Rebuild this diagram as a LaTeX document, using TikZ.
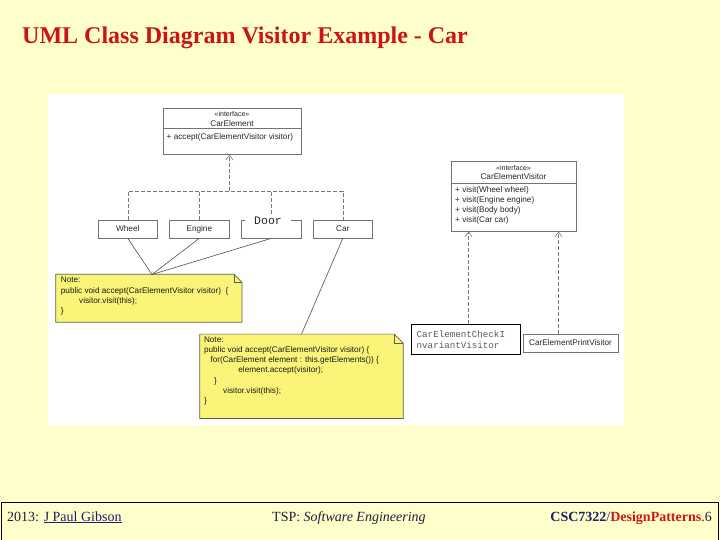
\documentclass[tikz,border=0pt]{standalone}
\usepackage{fontspec}
\setmainfont{Liberation Serif}
\setsansfont{Liberation Sans}
\setmonofont{Liberation Mono}
\usetikzlibrary{arrows.meta,calc}
\definecolor{bg}{RGB}{255,255,204}
\definecolor{titlered}{RGB}{204,20,20}
\definecolor{notey}{RGB}{250,245,120}
\definecolor{noteline}{RGB}{95,95,70}
\definecolor{boxgray}{RGB}{115,115,115}
\definecolor{linegray}{RGB}{80,80,80}
\definecolor{dashgray}{RGB}{120,120,120}
\definecolor{navy}{RGB}{30,30,110}
\definecolor{footdark}{RGB}{30,30,60}
\definecolor{footred}{RGB}{210,20,20}
\definecolor{ttgray}{RGB}{90,90,90}
\begin{document}
\begin{tikzpicture}[x=1pt,y=-1pt,
  cls/.style={draw=boxgray, fill=white, line width=0.7pt, inner sep=0pt},
  lbl/.style={font=\sffamily\fontsize{8.2}{9}\selectfont, inner sep=0pt, text=black!85},
  stereo/.style={font=\sffamily\fontsize{7}{8}\selectfont, inner sep=0pt, text=black!85},
  notebox/.style={inner sep=0pt},
  notetext/.style={font=\sffamily\fontsize{8.2}{10.2}\selectfont, inner sep=0pt, anchor=north west, align=left, text=black!90},
  dep/.style={draw=dashgray, line width=0.6pt, dash pattern=on 4pt off 2pt},
  deparrow/.style={dep, -{Straight Barb[length=5pt,width=7pt]}},
  link/.style={draw=linegray, line width=0.6pt},
  notedraw/.style={draw=noteline, fill=notey, line width=0.7pt},
  ttlbl/.style={font=\ttfamily, inner sep=0pt, text=ttgray}
]
\useasboundingbox (0,0) rectangle (720,540);
\fill[bg] (0,0) rectangle (720,540);

% title
\node[anchor=base west, font=\bfseries\fontsize{24}{28}\selectfont, text=titlered, inner sep=0pt] (title) at (22,44) {UML Class Diagram Visitor Example - Car};

% white panel
\fill[white] (48,94) rectangle (624,425);

% CarElement interface
\node[cls, minimum width=138pt, minimum height=46pt] (ce) at (232,131) {};
\draw[boxgray, line width=0.7pt] (ce.west |- 0,128.5) -- (ce.east |- 0,128.5);
\node[stereo] (ceS) at (232,114) {«interface»};
\node[lbl] (ceN) at (232,124) {CarElement};
\node[lbl, anchor=west] (ceM) at (166.5,137) {+ accept(CarElementVisitor visitor)};

% CarElementVisitor interface
\node[cls, minimum width=125pt, minimum height=70pt] (vis) at (513.5,196) {};
\draw[boxgray, line width=0.7pt] (vis.west |- 0,183) -- (vis.east |- 0,183);
\node[stereo] (visS) at (513.5,167.5) {«interface»};
\node[lbl] (visN) at (513.5,177) {CarElementVisitor};
\node[lbl, anchor=west] (visM1) at (455,190.5) {+ visit(Wheel wheel)};
\node[lbl, anchor=west] (visM2) at (455,200.5) {+ visit(Engine engine)};
\node[lbl, anchor=west] (visM3) at (455,210.7) {+ visit(Body body)};
\node[lbl, anchor=west] (visM4) at (455,220.8) {+ visit(Car car)};

% element classes
\node[cls, minimum width=59.3pt, minimum height=18pt, lbl] (wheel) at (127.8,229) {Wheel};
\node[cls, minimum width=59.3pt, minimum height=18pt, lbl] (engine) at (199.3,229) {Engine};
\node[cls, minimum width=59.3pt, minimum height=18pt] (door) at (271.3,229) {};
\node[cls, minimum width=59.3pt, minimum height=18pt, lbl] (car) at (342.8,229) {Car};

% realization of CarElement
\coordinate (junc) at (229.4,191);
\draw[dep] (wheel.north) |- (junc) -| (car.north);
\draw[dep] (engine.north) -- (engine.north |- junc);
\draw[dep] (door.north) -- (door.north |- junc);
\draw[deparrow] (junc) -- (junc |- ce.south);

\node[font=\ttfamily\fontsize{11.5}{12}\selectfont, text=black!85, fill=white, inner xsep=9pt, inner ysep=1pt] (doorT) at (268,221) {Door};

% visitors
\node[draw=black, fill=white, line width=1pt, minimum width=109pt, minimum height=30.5pt, inner sep=0pt] (check) at (465.5,339.3) {};
\node[ttlbl, font=\ttfamily\fontsize{9.2}{10}\selectfont, anchor=west] (checkT1) at (416.5,334) {CarElementCheckI};
\node[ttlbl, font=\ttfamily\fontsize{9.2}{10}\selectfont, anchor=west] (checkT2) at (416.5,345) {nvariantVisitor};
\node[cls, minimum width=95pt, minimum height=18pt, lbl] (print) at (570.5,343) {CarElementPrintVisitor};

\draw[deparrow] (check.north) ++(3,0) coordinate (c1) -- (c1 |- vis.south);
\draw[deparrow] (print.north) ++(-12,0) coordinate (p1) -- (p1 |- vis.south);

% notes
\node[notebox, minimum width=185.7pt, minimum height=47.5pt] (note1) at (148.85,298.25) {};
\draw[notedraw] (note1.south west) -- (note1.north west) -- ($(note1.north east)+(-8,0)$) -- ($(note1.north east)+(0,8)$) -- (note1.south east) -- cycle;
\draw[noteline, line width=0.6pt] ($(note1.north east)+(-8,0)$) |- ($(note1.north east)+(0,8)$);
\node[notetext] (note1T) at (60.7,277) {Note:\\public void accept(CarElementVisitor visitor)\ \ \{\\\hspace*{18.3pt}visitor.visit(this);\\\}};

\node[notebox, minimum width=203pt, minimum height=84pt] (note2) at (301.5,376.3) {};
\draw[notedraw] (note2.south west) -- (note2.north west) -- ($(note2.north east)+(-9,0)$) -- ($(note2.north east)+(0,9)$) -- (note2.south east) -- cycle;
\draw[noteline, line width=0.6pt] ($(note2.north east)+(-9,0)$) |- ($(note2.north east)+(0,9)$);
\node[notetext] (note2T) at (203.8,336.5) {Note:\\public void accept(CarElementVisitor visitor) \{\\\hspace*{6.5pt}for(CarElement element : this.getElements()) \{\\\hspace*{34.4pt}element.accept(visitor);\\\hspace*{10.2pt}\}\\\hspace*{19.2pt}visitor.visit(this);\\\}};

% note links
\coordinate (n1top) at (152,274.5);
\draw[link] (wheel.south) -- (n1top);
\draw[link] (engine.south) -- (n1top);
\draw[link] (door.south) -- (n1top);
\draw[link] (car.south) -- (note2.north);

% footer
\draw[black, line width=1pt] (1,540) -- (1,502) -- (718,502) -- (718,540);
\node[anchor=base west, font=\fontsize{14}{16}\selectfont, text=footdark, inner sep=0pt] (f1) at (7,521) {2013: {\color{navy}\underline{J Paul Gibson}}};
\node[anchor=base west, font=\fontsize{14}{16}\selectfont, text=footdark, inner sep=0pt] (f2) at (272,521) {TSP: \textit{Software Engineering}};
\node[anchor=base east, font=\fontsize{14}{16}\selectfont, text=footdark, inner sep=0pt] (f3) at (712,521) {{\color{navy}\textbf{CSC7322}/}\textbf{\color{footred}DesignPatterns}.6};
\end{tikzpicture}
\end{document}
